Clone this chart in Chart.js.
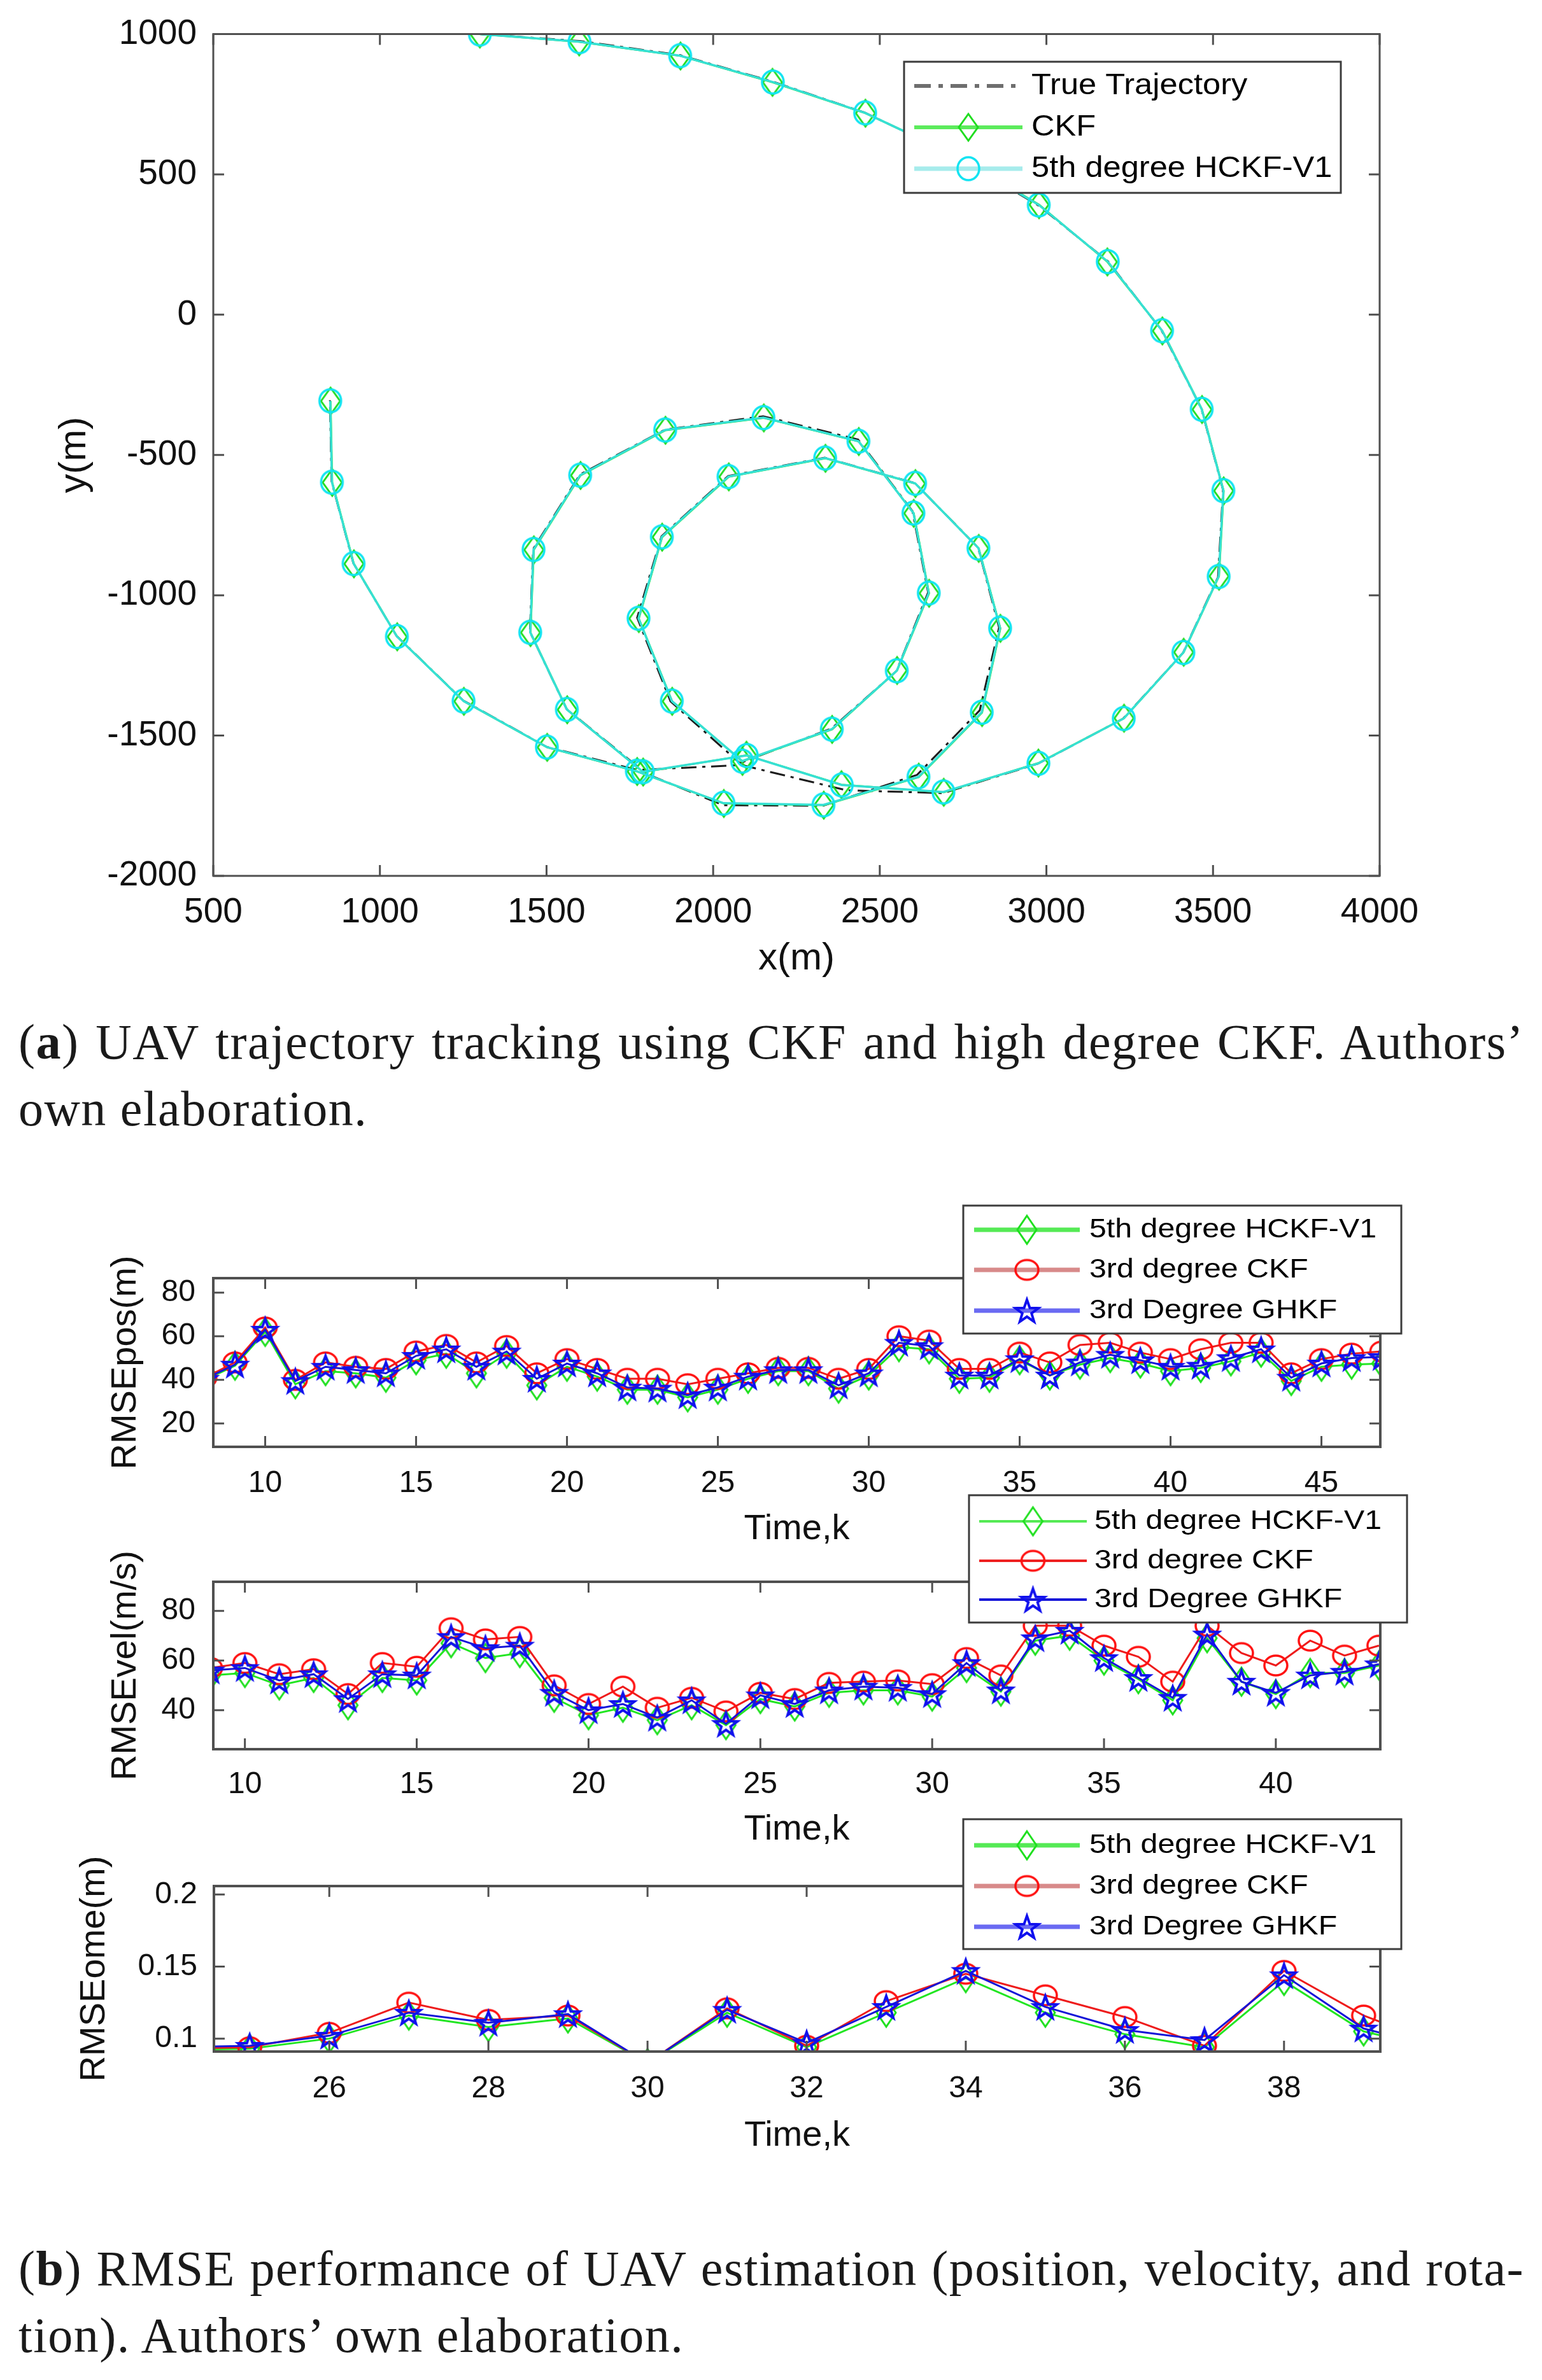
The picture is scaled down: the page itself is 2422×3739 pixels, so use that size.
<!DOCTYPE html>
<html><head><meta charset="utf-8">
<script src="https://cdn.jsdelivr.net/npm/chart.js@4.4.0/dist/chart.umd.min.js"></script>
<style>
html,body{margin:0;padding:0;background:#fff;}
#page{position:relative;width:2422px;height:3739px;background:#fff;overflow:hidden;}
canvas{position:absolute;left:0;}
.cap{position:absolute;left:29px;width:2365px;font-family:"Liberation Serif","Times New Roman",serif;font-size:78px;letter-spacing:1.5px;line-height:105px;color:#1a1a1a;}
.j{text-align:justify;text-align-last:justify;}
</style></head><body><div id="page">
<canvas id="c1" width="2422" height="1536" style="top:0px"></canvas>
<div class="cap" style="top:1584px"><div class="j">(<b>a</b>) UAV trajectory tracking using CKF and high degree CKF. Authors’</div><div>own elaboration.</div></div>
<canvas id="c2" width="2422" height="551" style="top:1880px"></canvas>
<canvas id="c3" width="2422" height="563" style="top:2340px"></canvas>
<canvas id="c4" width="2422" height="539" style="top:2845px"></canvas>
<div class="cap" style="top:3511px"><div class="j">(<b>b</b>) RMSE performance of UAV estimation (position, velocity, and rota-</div><div>tion). Authors’ own elaboration.</div></div>
</div>
<script>
// ---------------- DATA ----------------
const trajNames = ['True Trajectory', 'CKF', '5th degree HCKF-V1'];
const trajXTicks = [500, 1000, 1500, 2000, 2500, 3000, 3500, 4000];
const trajYTicks = [-2000, -1500, -1000, -500, 0, 500, 1000];
const trueX = [1300,1600,1900,2180,2455,2720,2975,3185,3345,3465,3530,3515,3410,3230,2975,2690,2400,2085,1785,1560,1450,1460,1600,1855,2150,2435,2598,2645,2550,2355,2080,1872,1772,1845,2045,2335,2605,2795,2858,2800,2612,2330,2030,1770,1500,1250,1050,920,855,850];
const trueY = [1000,975,925,830,720,570,390,190,-55,-335,-625,-935,-1205,-1440,-1600,-1705,-1695,-1605,-1622,-1405,-1130,-835,-570,-410,-362,-445,-700,-990,-1270,-1475,-1598,-1378,-1080,-790,-575,-510,-600,-830,-1115,-1410,-1640,-1750,-1748,-1622,-1540,-1375,-1145,-885,-595,-305];
const ckfX = [1300,1598,1902,2178,2457,2722,2978,3183,3348,3467,3532,3518,3412,3233,2976,2692,2385,2100,1790,1562,1452,1462,1602,1857,2152,2437,2602,2648,2552,2357,2088,1877,1777,1847,2047,2337,2607,2797,2862,2807,2617,2332,2032,1772,1502,1252,1052,922,857,852];
const ckfY = [1000,972,922,828,718,572,392,188,-58,-338,-628,-932,-1203,-1438,-1598,-1702,-1675,-1570,-1630,-1408,-1133,-838,-573,-412,-368,-452,-708,-993,-1268,-1478,-1592,-1378,-1083,-793,-578,-512,-602,-833,-1118,-1418,-1648,-1748,-1742,-1628,-1542,-1378,-1148,-888,-598,-308];
const hckfX = [1300,1599,1901,2179,2456,2721,2977,3184,3347,3466,3531,3517,3411,3232,2976,2691,2386,2101,1789,1561,1451,1461,1601,1856,2151,2436,2601,2647,2551,2356,2087,1876,1776,1846,2046,2336,2606,2796,2861,2806,2616,2331,2031,1771,1501,1251,1051,921,856,851];
const hckfY = [1000,973,923,829,719,571,391,189,-57,-337,-627,-933,-1204,-1439,-1599,-1701,-1676,-1571,-1629,-1407,-1132,-837,-572,-411,-367,-451,-707,-992,-1269,-1477,-1591,-1377,-1082,-792,-577,-511,-601,-832,-1117,-1417,-1647,-1747,-1741,-1627,-1541,-1377,-1147,-887,-597,-307];

const rmseNames = ['5th degree HCKF-V1', '3rd degree CKF', '3rd Degree GHKF'];

const posK     = [8,9,10,11,12,13,14,15,16,17,18,19,20,21,22,23,24,25,26,27,28,29,30,31,32,33,34,35,36,37,38,39,40,41,42,43,44,45,46,47];
const posGreen = [40,46.5,62,38,44,43,41,49,52,43,52,37.5,46,41.5,35.5,35.5,32,35.5,40.5,44,44,36,42,55,54,40.5,41,49,42,47,50,47.5,44,45.5,48.5,52.5,39.5,46,47,47.5];
const posRed   = [41,48,64,40,48,46,45,53,56,48,55.5,43,49.5,45,40.5,40.5,38,40.5,43,45.5,45.5,40.5,45,60,58,45,45,52.5,48,56,57,52.5,49.5,54,57,57,43,49.5,52,53];
const posBlue  = [40.5,47,63,39.5,46,44.5,43,51,54,46,53,40.5,47.5,43,36.5,36,33,36.5,41.5,44.5,44.5,37.5,43,57,55.5,42,42,49.5,42,48,51.5,49,46,46.5,50,54,41,47.5,50,50.5];
const posXTicks = [10,15,20,25,30,35,40,45];
const posYTicks = [20,40,60,80];

const velK     = [9,10,11,12,13,14,15,16,17,18,19,20,21,22,23,24,25,26,27,28,29,30,31,32,33,34,35,36,37,38,39,40,41,42,43];
const velGreen = [54,55,50,53,42,53,52,67,61,63,45,38,41,36,42,34,44.5,41.5,47,48,48,45.5,57,47.5,68,70,60,52.5,44,69,51.5,46.5,55,55,58];
const velRed   = [57,59,54.5,56.5,46.5,59,57.5,73,68.5,69.5,50,42.5,49.5,41,45,39.5,47,44.5,51,51.5,52,50.5,61,54,74,74,66,61.5,51.5,74,63,58,68,62,66];
const velBlue  = [56,57,52,54.5,44.5,54.5,54,69.5,65,66,47,40,42.5,37,44,34.5,46,42.5,48,49.5,49,46.5,59,48,69,72,61,53,45,70.5,51.5,47,54,55.5,58.5];
const velXTicks = [10,15,20,25,30,35,40];
const velYTicks = [40,60,80];

const omeK     = [24,25,26,27,28,29,30,31,32,33,34,35,36,37,38,39,40];
const omeGreen = [0.092,0.093,0.100,0.116,0.108,0.114,0.083,0.118,0.094,0.118,0.142,0.118,0.103,0.094,0.140,0.105,0.092];
const omeRed   = [0.093,0.094,0.104,0.125,0.113,0.116,0.083,0.121,0.095,0.126,0.145,0.130,0.115,0.095,0.147,0.116,0.095];
const omeBlue  = [0.094,0.095,0.102,0.118,0.111,0.117,0.083,0.120,0.097,0.122,0.147,0.122,0.106,0.099,0.144,0.107,0.093];
const omeXTicks = [26,28,30,32,34,36,38];
const omeYTicks = [0.1,0.15,0.2];

// ---------------- HELPERS ----------------
function pts(xs, ys) { return xs.map((x, i) => ({x: x, y: ys[i]})); }

function marker(kind, w, h, color, lw) {
  const pad = Math.ceil(lw) + 2;
  const c = document.createElement('canvas');
  c.width = Math.ceil(w + 2 * pad); c.height = Math.ceil(h + 2 * pad);
  const g = c.getContext('2d');
  g.strokeStyle = color; g.lineWidth = lw; g.lineJoin = 'miter';
  const cx = c.width / 2, cy = c.height / 2;
  g.beginPath();
  if (kind === 'diamond') {
    g.moveTo(cx, cy - h / 2); g.lineTo(cx + w / 2, cy); g.lineTo(cx, cy + h / 2); g.lineTo(cx - w / 2, cy); g.closePath();
  } else if (kind === 'ellipse') {
    g.ellipse(cx, cy, w / 2, h / 2, 0, 0, Math.PI * 2);
  } else {
    for (let i = 0; i < 10; i++) {
      const r = (i % 2) ? 0.4 : 1;
      const a = -Math.PI / 2 + i * Math.PI / 5;
      g.lineTo(cx + r * (w / 2) * Math.cos(a), cy + r * (h / 2) * Math.sin(a) + h * 0.05);
    }
    g.closePath();
  }
  g.stroke();
  return c;
}

const legendCfg = {};
const axesCfg = {};

const boxAxes = {
  id: 'boxAxes',
  afterDatasetsDraw(chart) {
    const o = axesCfg[chart.canvas.id];
    const ctx = chart.ctx, a = chart.chartArea, xs = chart.scales.x, ys = chart.scales.y;
    ctx.save();
    ctx.strokeStyle = o.color; ctx.lineWidth = o.lw;
    ctx.beginPath();
    xs.ticks.forEach((t, i) => {
      const px = xs.getPixelForTick(i);
      ctx.moveTo(px, a.bottom); ctx.lineTo(px, a.bottom - o.len);
      ctx.moveTo(px, a.top); ctx.lineTo(px, a.top + o.len);
    });
    ys.ticks.forEach((t, i) => {
      const py = ys.getPixelForTick(i);
      ctx.moveTo(a.left, py); ctx.lineTo(a.left + o.len, py);
      ctx.moveTo(a.right, py); ctx.lineTo(a.right - o.len, py);
    });
    ctx.stroke();
    ctx.lineWidth = o.boxLw;
    ctx.strokeRect(a.left, a.top, a.right - a.left, a.bottom - a.top);
    ctx.restore();
  }
};

const boxLegend = {
  id: 'boxLegend',
  afterDraw(chart) {
    const o = legendCfg[chart.canvas.id];
    if (!o) return;
    const ctx = chart.ctx;
    const b = o.box;
    ctx.save();
    ctx.fillStyle = '#fff';
    ctx.fillRect(b[0], b[1], b[2], b[3]);
    ctx.strokeStyle = '#3c3c3c'; ctx.lineWidth = 3;
    ctx.strokeRect(b[0], b[1], b[2], b[3]);
    chart.data.datasets.forEach((ds, i) => {
      const yy = o.rows[i];
      ctx.save();
      ctx.strokeStyle = ds.legendColor || ds.borderColor;
      ctx.lineWidth = ds.legendWidth || ds.borderWidth;
      ctx.setLineDash(ds.legendDash || []);
      ctx.beginPath(); ctx.moveTo(o.line[0], yy); ctx.lineTo(o.line[1], yy); ctx.stroke();
      ctx.restore();
      if (ds.pointStyle && typeof ds.pointStyle === 'object') {
        const m = ds.pointStyle, mx = (o.line[0] + o.line[1]) / 2;
        ctx.drawImage(m, mx - m.width / 2, yy - m.height / 2);
      }
      ctx.save();
      ctx.translate(o.textX, yy);
      ctx.scale(o.stretch, 1);
      ctx.font = o.fontSize + "px 'Liberation Sans', Arial, sans-serif";
      ctx.fillStyle = '#000'; ctx.textBaseline = 'middle'; ctx.textAlign = 'left';
      ctx.fillText(ds.label, 0, 0);
      ctx.restore();
    });
    ctx.restore();
  }
};

function build(id, o) {
  axesCfg[id] = o.axes;
  legendCfg[id] = o.legend;
  const fmt = v => String(v);
  return new Chart(document.getElementById(id), {
    type: 'scatter',
    data: { datasets: o.datasets },
    options: {
      responsive: false, animation: false, devicePixelRatio: 1, events: [],
      layout: { padding: o.pad },
      plugins: { legend: { display: false }, tooltip: { enabled: false } },
      scales: {
        x: {
          type: 'linear', min: o.xMin, max: o.xMax,
          afterFit: s => { s.height = o.xH; },
          afterBuildTicks: s => { s.ticks = o.xTicks.map(v => ({value: v})); },
          grid: { display: false, drawTicks: false }, border: { display: false },
          ticks: { padding: o.xPad, autoSkip: false, maxRotation: 0, color: '#111', font: { size: o.tickSize, lineHeight: 1 }, callback: fmt },
          title: { display: true, text: o.xTitle, padding: 0, color: '#111', font: { size: o.titleSize, lineHeight: 1 } }
        },
        y: {
          type: 'linear', min: o.yMin, max: o.yMax,
          afterFit: s => { s.width = o.yW; },
          afterBuildTicks: s => { s.ticks = o.yTicks.map(v => ({value: v})); },
          grid: { display: false, drawTicks: false }, border: { display: false },
          ticks: { padding: o.yPad, autoSkip: false, color: '#111', font: { size: o.tickSize, lineHeight: 1 }, callback: fmt },
          title: { display: true, text: o.yTitle, padding: 0, color: '#111', font: { size: o.titleSize, lineHeight: 1 } }
        }
      }
    },
    plugins: [boxAxes, boxLegend]
  });
}

Chart.defaults.font.family = "'Liberation Sans', Arial, sans-serif";

// ---------------- TRAJECTORY ----------------
const mDiamondT = marker('diamond', 30, 42, '#20dd20', 3);
const mCircleT = marker('ellipse', 34, 36, '#12e4f2', 3.5);
build('c1', {
  datasets: [
    { label: trajNames[0], data: pts(trueX, trueY), showLine: true, borderColor: '#1c1c1c', borderWidth: 3, borderDash: [24, 9, 5, 9], pointRadius: 0, clip: 0, order: 3,
      legendColor: '#6e6e6e', legendWidth: 6, legendDash: [26, 12, 7, 12] },
    { label: trajNames[1], data: pts(ckfX, ckfY), showLine: true, borderColor: '#33e633', borderWidth: 3, pointStyle: mDiamondT, pointRadius: 22, clip: 0, order: 2,
      legendColor: '#5ceb5c', legendWidth: 6 },
    { label: trajNames[2], data: pts(hckfX, hckfY), showLine: true, borderColor: '#36e0d4', borderWidth: 3.5, pointStyle: mCircleT, pointRadius: 22, clip: 0, order: 1,
      legendColor: '#a6ecec', legendWidth: 7 }
  ],
  pad: { left: 87, right: 255, top: 47, bottom: 0 },
  yW: 248, xH: 160,
  xMin: 500, xMax: 4000, yMin: -2000, yMax: 1000,
  xTicks: trajXTicks, yTicks: trajYTicks,
  xPad: 30, yPad: 26, tickSize: 55, titleSize: 60,
  xTitle: 'x(m)', yTitle: 'y(m)',
  axes: { color: '#505050', lw: 3, boxLw: 3, len: 17 },
  legend: { box: [1420, 97, 686, 206], rows: [135, 200, 265], line: [1436, 1606], textX: 1620, fontSize: 46, stretch: 1.1 }
});

// ---------------- RMSE ----------------
const mDiamond = marker('diamond', 30, 44, '#1fe01f', 3);
const mCircle = marker('ellipse', 36, 31, '#ff1010', 3.5);
const mStar = marker('star', 38, 38, '#1010ee', 4);

function rmseSets(g, r, b, k, lw) {
  return [
    { label: rmseNames[0], data: pts(k, g), showLine: true, borderColor: '#22e622', borderWidth: 3, pointStyle: mDiamond, pointRadius: 22, clip: 0, order: 3,
      legendColor: '#55ea55', legendWidth: lw },
    { label: rmseNames[1], data: pts(k, r), showLine: true, borderColor: '#ee1c1c', borderWidth: 3, pointStyle: mCircle, pointRadius: 22, clip: 0, order: 2,
      legendColor: lw > 4 ? '#d88a8a' : '#ee2020', legendWidth: lw },
    { label: rmseNames[2], data: pts(k, b), showLine: true, borderColor: '#1515d8', borderWidth: 3, pointStyle: mStar, pointRadius: 22, clip: 0, order: 1,
      legendColor: lw > 4 ? '#6a6af2' : '#1515d8', legendWidth: lw }
  ];
}

const rmseAxes = { color: '#505050', lw: 3, boxLw: 4, len: 17 };

build('c2', {
  datasets: rmseSets(posGreen, posRed, posBlue, posK, 7),
  pad: { left: 170, right: 254, top: 128, bottom: 0 },
  yW: 165, xH: 158,
  xMin: 8.28, xMax: 46.95, yMin: 9.3, yMax: 86.6,
  xTicks: posXTicks, yTicks: posYTicks,
  xPad: 34, yPad: 28, tickSize: 48, titleSize: 56,
  xTitle: 'Time,k', yTitle: 'RMSEpos(m)',
  axes: rmseAxes,
  legend: { box: [1513, 14, 688, 201], rows: [52, 115, 179], line: [1530, 1696], textX: 1711, fontSize: 42, stretch: 1.15 }
});

build('c3', {
  datasets: rmseSets(velGreen, velRed, velBlue, velK, 4),
  pad: { left: 170, right: 254, top: 145, bottom: 0 },
  yW: 165, xH: 155,
  xMin: 9.08, xMax: 43.04, yMin: 24.3, yMax: 91.7,
  xTicks: velXTicks, yTicks: velYTicks,
  xPad: 32, yPad: 28, tickSize: 48, titleSize: 56,
  xTitle: 'Time,k', yTitle: 'RMSEvel(m/s)',
  axes: rmseAxes,
  legend: { box: [1522, 9, 688, 200], rows: [50, 112, 173], line: [1538, 1707], textX: 1719, fontSize: 42, stretch: 1.15 }
});

build('c4', {
  datasets: rmseSets(omeGreen, omeRed, omeBlue, omeK, 7),
  pad: { left: 121, right: 254, top: 118, bottom: 0 },
  yW: 215, xH: 161,
  xMin: 24.55, xMax: 39.21, yMin: 0.091, yMax: 0.2059,
  xTicks: omeXTicks, yTicks: omeYTicks,
  xPad: 35, yPad: 26, tickSize: 48, titleSize: 56,
  xTitle: 'Time,k', yTitle: 'RMSEome(m)',
  axes: rmseAxes,
  legend: { box: [1513, 13, 688, 204], rows: [54, 118, 182], line: [1530, 1696], textX: 1711, fontSize: 42, stretch: 1.15 }
});
</script>
</body></html>
